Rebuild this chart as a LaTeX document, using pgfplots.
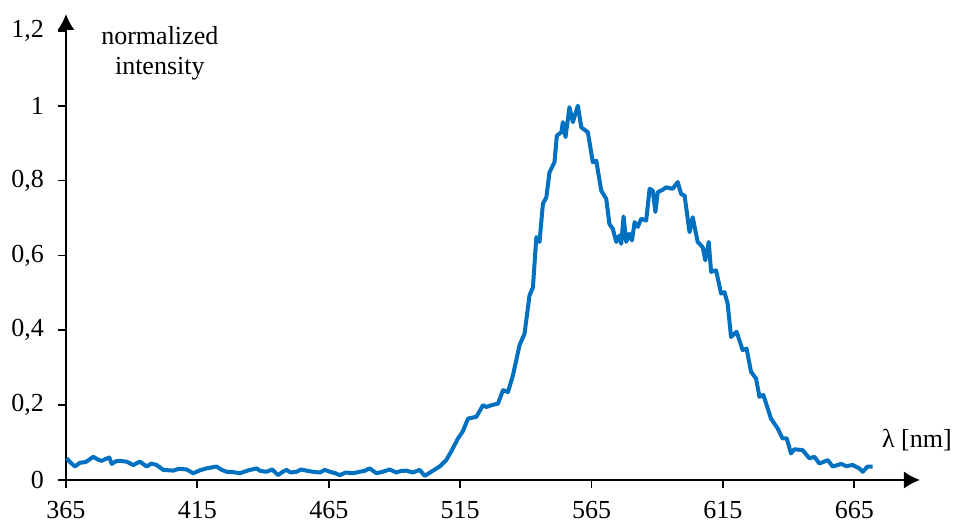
\documentclass[border=0pt]{standalone}
\usepackage{fontspec}
\setmainfont{Liberation Serif}
\usepackage{pgfplots}
\pgfplotsset{compat=1.18}
\usetikzlibrary{arrows.meta}
\definecolor{specblue}{RGB}{0,112,192}
\begin{document}
\begin{tikzpicture}
\begin{axis}[
  scale only axis,
  width=427pt, height=233pt,
  xmin=365, xmax=690, ymin=0, ymax=1.245,
  axis lines=left,
  axis line style={line width=0.9pt,-{Latex[length=8pt,width=8.5pt]}},
  xtick={365,415,465,515,565,615,665},
  ytick={0,0.2,0.4,0.6,0.8,1,1.2},
  tick align=outside,
  major tick length=4pt,
  tick style={line width=0.9pt,black},
  /pgf/number format/assume math mode=true,
  yticklabel style={/pgf/number format/.cd, use comma, fixed, precision=1, /tikz/.cd, xshift=-3.5pt},
  xticklabel style={/pgf/number format/.cd, set thousands separator={}, /tikz/.cd, yshift=-3pt},
  ticklabel style={font=\fontsize{13}{15}\selectfont},
  clip=false,
]
\addplot[color=specblue, line width=2pt, line join=round, mark=none] coordinates {
(365.3,0.058)(366.5,0.048)(368.4,0.036)(370.3,0.046)(372.5,0.048)(375.4,0.062)
(377,0.055)(378.6,0.051)(380,0.056)(381.5,0.060)(382.4,0.043)(384,0.050)
(385.5,0.051)(388.1,0.049)(390.6,0.040)(393.1,0.049)(395.7,0.036)(397.5,0.044)
(399.5,0.040)(402,0.027)(405.8,0.025)(408,0.030)(410.9,0.028)(413.4,0.018)
(416,0.026)(418.5,0.031)(420,0.033)(422.3,0.036)(424,0.028)(426.1,0.022)
(428.5,0.021)(431.2,0.018)(434,0.025)(437.5,0.031)(439,0.024)(441.3,0.022)
(443.5,0.028)(445.7,0.013)(447.5,0.022)(448.9,0.027)(450.5,0.020)(452.7,0.022)
(454.5,0.028)(456.5,0.025)(459,0.022)(461.6,0.020)(463.5,0.027)(465.4,0.022)
(467.5,0.018)(469.2,0.013)(471.5,0.020)(474.2,0.018)(476.8,0.022)(478.5,0.024)
(480.6,0.031)(483.1,0.018)(485.5,0.022)(488.2,0.028)(490.7,0.020)(492.5,0.024)
(494.5,0.025)(497,0.020)(499.6,0.027)(501.5,0.011)(504,0.022)(507.2,0.036)
(509.7,0.053)(511.5,0.075)(514.2,0.111)(516,0.130)(518,0.164)(521.2,0.169)
(523.7,0.200)(525,0.195)(527,0.200)(529.4,0.204)(531.3,0.240)(533.2,0.235)
(535.1,0.280)(537.6,0.360)(539.5,0.391)(541.4,0.493)(542.7,0.515)(544,0.649)
(545.2,0.636)(546.5,0.738)(547.8,0.755)(549,0.822)(550.9,0.849)(551.8,0.920)
(553.5,0.929)(554.1,0.956)(555.1,0.916)(556.6,0.996)(557.9,0.956)(559.8,1.000)
(561.1,0.942)(563.6,0.929)(565.5,0.849)(566.8,0.853)(568.7,0.773)(570.6,0.751)
(571.8,0.684)(573.1,0.671)(574.4,0.636)(575.6,0.653)(576.3,0.631)(577.2,0.704)
(578.2,0.636)(579.4,0.658)(580.4,0.640)(581.4,0.689)(582.6,0.676)(583.9,0.698)
(585.8,0.693)(587.1,0.778)(588.3,0.773)(589.3,0.716)(590.2,0.769)(592,0.775)
(593.4,0.782)(595.9,0.778)(597.8,0.796)(599.1,0.764)(600.4,0.760)(602.3,0.662)
(603.5,0.702)(605.4,0.636)(607.3,0.622)(608.3,0.587)(609.6,0.636)(610.5,0.556)
(612.4,0.560)(614.3,0.498)(615.6,0.502)(616.8,0.471)(618.1,0.382)(620.2,0.396)
(622.5,0.347)(624.0,0.351)(625.7,0.289)(627.6,0.271)(628.9,0.222)(630.4,0.227)
(633.3,0.164)(635.8,0.138)(637.7,0.111)(639.3,0.111)(640.9,0.071)(642.2,0.082)
(645.3,0.080)(647.9,0.058)(649.8,0.062)(651.7,0.044)(654.9,0.053)(656.8,0.036)
(660,0.043)(661.9,0.037)(664.4,0.040)(666.9,0.031)(668.2,0.022)(670.1,0.036)
(672,0.036)
};
\node[align=center, font=\fontsize{13}{15}\selectfont] at (axis cs:400.7,1.14) {normalized\\intensity};
\node[font=\fontsize{13}{15}\selectfont] at (axis cs:688.8,0.107) {λ [nm]};
\end{axis}
\pgfresetboundingbox
\path[use as bounding box] (-33pt,-21pt) rectangle (444.5pt,240pt);
\end{tikzpicture}
\end{document}
